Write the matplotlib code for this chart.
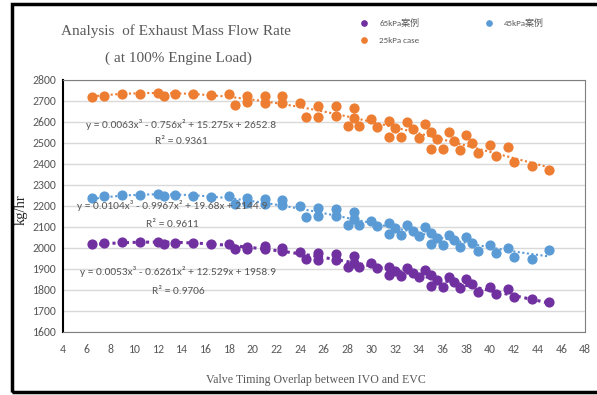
import numpy as np
import matplotlib
matplotlib.use('Agg')
import matplotlib.pyplot as plt
from matplotlib.patches import Rectangle

# data
x_vals = [6.5, 7.5, 9, 10.5, 12, 12.5, 13.5, 15, 16.5, 18, 18.5, 19.5, 19.5, 21, 21,
          22.5, 22.5, 24, 24.5, 25.5, 25.5, 27, 27, 28, 28.5, 28.5, 29, 30, 30.5,
          31.5, 31.5, 32, 32.5, 33, 33.5, 34, 34.5, 35, 35, 35.5, 36, 36.5, 37,
          37.5, 38, 38.5, 39, 40, 40.5, 41.5, 42, 43.5, 45]

y_25kpa = [2720, 2725, 2733, 2733, 2740, 2724, 2733, 2735, 2730, 2733, 2682, 2724, 2694,
           2725, 2689, 2724, 2689, 2689, 2622, 2678, 2625, 2676, 2629, 2581, 2668, 2618,
           2581, 2614, 2578, 2605, 2527, 2570, 2530, 2602, 2565, 2525, 2590, 2554, 2470,
           2518, 2470, 2551, 2511, 2467, 2538, 2498, 2451, 2490, 2440, 2483, 2408, 2391,
           2371]

y_45kpa = [2240, 2248, 2251, 2251, 2256, 2248, 2251, 2249, 2244, 2248, 2208, 2237, 2213,
           2235, 2210, 2229, 2205, 2200, 2149, 2189, 2152, 2184, 2152, 2110, 2173, 2137,
           2110, 2130, 2105, 2117, 2067, 2094, 2062, 2110, 2083, 2057, 2102, 2073, 2018,
           2046, 2014, 2062, 2038, 2003, 2054, 2022, 1986, 2014, 1975, 1999, 1956, 1946,
           1990]

y_65kpa = [2019, 2022, 2027, 2029, 2029, 2019, 2022, 2022, 2017, 2019, 1994, 2006, 1994,
           2011, 1994, 2001, 1987, 1982, 1946, 1975, 1943, 1971, 1943, 1911, 1962, 1930,
           1911, 1930, 1903, 1911, 1871, 1892, 1867, 1906, 1882, 1860, 1895, 1871, 1819,
           1848, 1816, 1860, 1837, 1808, 1852, 1827, 1792, 1813, 1781, 1803, 1768, 1756,
           1744]

# cubic trendline coefficients as printed on the chart
coef_25kpa = [0.0063, -0.756, 15.275, 2652.8]
coef_45kpa = [0.0104, -0.9967, 19.68, 2144.9]
coef_65kpa = [0.0053, -0.6261, 12.529, 1958.9]

eq_25kpa = ['y = 0.0063x³ - 0.756x² + 15.275x + 2652.8', 'R² = 0.9361']
eq_45kpa = ['y = 0.0104x³ - 0.9967x² + 19.68x + 2144.9', 'R² = 0.9611']
eq_65kpa = ['y = 0.0053x³ - 0.6261x² + 12.529x + 1958.9', 'R² = 0.9706']

labels = ['65kPa案例', '45kPa案例', '25kPa case']

c_purple = '#7030a0'
c_blue = '#5b9bd5'
c_orange = '#ed7d31'
grey = '#595959'

calib = ['Carlito', 'DejaVu Sans']
serif = 'Liberation Serif'

fig = plt.figure(figsize=(5.97, 3.95), dpi=100)
ax = fig.add_axes([0.105, 0.1595, 0.875, 0.638])

xs = np.array(x_vals)
xt = np.linspace(min(x_vals), max(x_vals), 200)

h65 = ax.scatter(xs, y_65kpa, s=40, color=c_purple, zorder=3, label=labels[0])
h45 = ax.scatter(xs, y_45kpa, s=40, color=c_blue, zorder=3, label=labels[1])
h25 = ax.scatter(xs, y_25kpa, s=40, color=c_orange, zorder=3, label=labels[2])

ax.plot(xt, np.polyval(coef_65kpa, xt), color=c_purple, ls=(0, (1, 1.2)), lw=2.2, zorder=2)
ax.plot(xt, np.polyval(coef_45kpa, xt), color=c_blue, ls=(0, (1, 1.2)), lw=1.5, zorder=2)
ax.plot(xt, np.polyval(coef_25kpa, xt), color=c_orange, ls=(0, (1, 1.2)), lw=1.5, zorder=2)

ax.set_xlim(4, 48)
ax.set_ylim(1600, 2800)
ax.set_xticks(range(4, 49, 2))
ax.set_yticks(range(1600, 2801, 100))
ax.grid(axis='y', color='#d9d9d9', lw=1)
ax.set_axisbelow(True)
ax.tick_params(length=0, labelsize=8.5, labelcolor=grey)
ax.tick_params(axis='x', pad=9)
ax.tick_params(axis='y', pad=5)
for lab in ax.get_xticklabels() + ax.get_yticklabels():
    lab.set_family(calib)
for side in ['top', 'right', 'bottom']:
    ax.spines[side].set_color('#7f7f7f')
ax.spines['left'].set_color('black')
ax.spines['left'].set_linewidth(1.5)

# trendline equations
for (eq, r2), xc, y1, y2 in [(eq_25kpa, 14.0, 2590, 2505),
                             (eq_45kpa, 13.2, 2200, 2114),
                             (eq_65kpa, 13.7, 1886, 1795)]:
    ax.text(xc, y1, eq, ha='center', va='center', fontsize=8.2, color=grey, family=calib)
    ax.text(xc, y2, r2, ha='center', va='center', fontsize=8.2, color=grey, family=calib)

ax.set_ylabel('kg/hr', family=serif, fontsize=10.5, color='#262626')
ax.yaxis.set_label_coords(-0.066, 0.484)
ax.set_xlabel('Valve Timing Overlap between IVO and EVC', family=serif,
              fontsize=8.6, color=grey)
ax.xaxis.set_label_coords(0.485, -0.165)

fig.text(176 / 597, 1 - 31 / 395, 'Analysis  of Exhaust Mass Flow Rate',
         ha='center', va='center', family=serif, fontsize=11, color=grey)
fig.text(178 / 597, 1 - 58 / 395, '( at 100% Engine Load)',
         ha='center', va='center', family=serif, fontsize=11, color=grey)

leg_prop = {'family': ['Carlito', 'Noto Sans CJK SC'], 'size': 6.5}
leg1 = fig.legend(handles=[h65, h25], labels=[labels[0], labels[2]], loc='upper left',
                  bbox_to_anchor=(359.5 / 597, 1 - 17.5 / 395), frameon=False,
                  markerscale=0.6, handlelength=1, handletextpad=1.2, borderpad=0,
                  borderaxespad=0, labelspacing=1.1, prop=leg_prop)
leg2 = fig.legend(handles=[h45], labels=[labels[1]], loc='upper left',
                  bbox_to_anchor=(484.5 / 597, 1 - 17.5 / 395), frameon=False,
                  markerscale=0.6, handlelength=1, handletextpad=1.2, borderpad=0,
                  borderaxespad=0, prop=leg_prop)
for leg in (leg1, leg2):
    for t in leg.get_texts():
        t.set_color(grey)

# outer frame
fig.patches.append(Rectangle((12 / 597, 3 / 395), 1.0, 1 - 7 / 395, transform=fig.transFigure,
                             fill=False, edgecolor='black', lw=2.5))

fig.savefig('out.png', dpi=100)
